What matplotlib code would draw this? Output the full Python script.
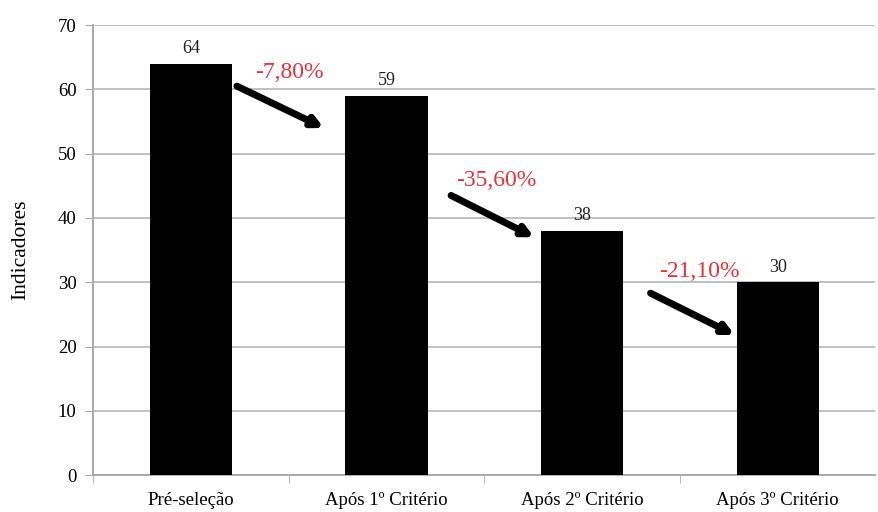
import matplotlib.pyplot as plt
import numpy as np

categories = ["Pré-seleção", "Após 1º Critério", "Após 2º Critério", "Após 3º Critério"]
values = [64, 59, 38, 30]
changes = ["-7,80%", "-35,60%", "-21,10%"]

# arrow / label placement between consecutive bars (category units, data y)
arrow_start = [(0.235, 60.5), (1.33, 43.5), (2.35, 28.3)]
arrow_end = [(0.68, 54.0), (1.755, 37.0), (2.78, 21.8)]
label_pos = [(0.505, 62.6), (1.56, 45.9), (2.6, 31.7)]

plt.rcParams["font.family"] = ["Liberation Serif", "DejaVu Serif"]

fig = plt.figure(figsize=(8.79, 5.12), dpi=100)
ax = fig.add_axes([0.106, 0.072, 0.89, 0.879])

x = np.arange(len(categories))
ax.bar(x, values, width=0.42, color="black", zorder=3)

for xi, v in zip(x, values):
    ax.text(xi, v + 1.0, str(v), ha="center", va="bottom", fontsize=13, color="#222222")

for (s, e, lp, txt) in zip(arrow_start, arrow_end, label_pos, changes):
    ax.annotate("", xy=e, xytext=s,
                arrowprops=dict(arrowstyle="-|>", lw=5, color="black",
                                mutation_scale=15, shrinkA=0, shrinkB=0))
    ax.text(lp[0], lp[1], txt, ha="center", va="center", fontsize=17, color="#e8303a")

ax.set_ylim(0, 70)
ax.set_yticks(range(0, 71, 10))
ax.set_xlim(-0.5, 3.5)
ax.set_xticks(x)
ax.set_xticklabels(categories, fontsize=13.5)
ax.set_xticks(np.arange(-0.5, 3.5, 1), minor=True)
ax.tick_params(axis="x", which="major", length=0, pad=12)
ax.tick_params(axis="x", which="minor", length=6, color="#aaaaaa")
ax.tick_params(axis="y", length=6, color="#aaaaaa", labelsize=13.5, pad=6)

ax.grid(axis="y", color="#c0c0c0", lw=1.4, zorder=0)
for side in ["top", "right"]:
    ax.spines[side].set_visible(False)
for side in ["left", "bottom"]:
    ax.spines[side].set_color("#aaaaaa")
    ax.spines[side].set_linewidth(1.4)

ax.set_ylabel("Indicadores", fontsize=15.5, labelpad=20)

fig.savefig("out.png", dpi=100)
